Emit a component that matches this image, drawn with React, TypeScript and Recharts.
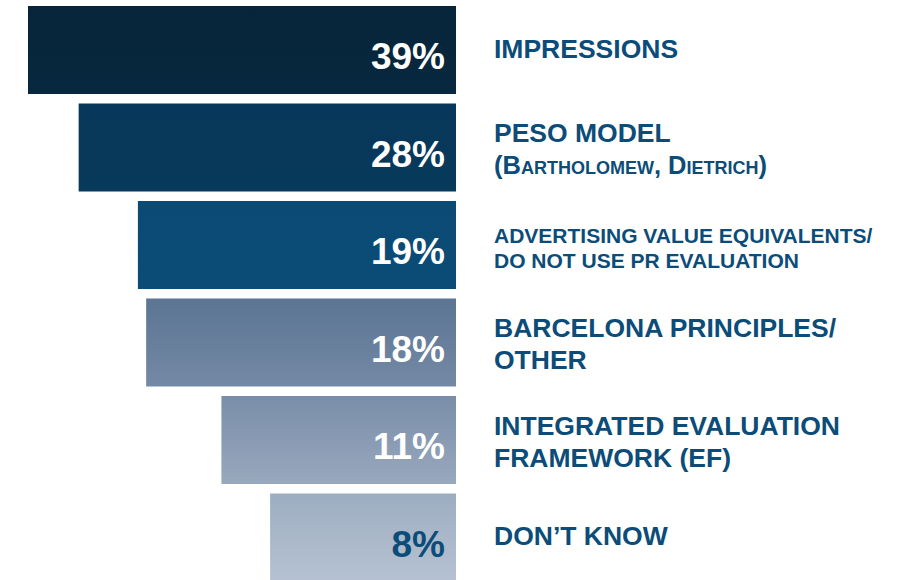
import * as React from "react";
import { BarChart, Bar, XAxis, YAxis, Cell, LabelList } from "recharts";

// survey answers, top to bottom
const methods = [
  "Impressions",
  "PESO model",
  "AVE / no evaluation",
  "Barcelona principles / other",
  "Integrated evaluation framework",
  "Don't know",
];
const shares = [39, 28, 19, 18, 11, 8];

// label text shown to the right of each bar, one entry per line
const labelLines: string[][] = [
  ["IMPRESSIONS"],
  ["PESO MODEL", "(Bartholomew, Dietrich)"],
  ["ADVERTISING VALUE EQUIVALENTS/", "DO NOT USE PR EVALUATION"],
  ["BARCELONA PRINCIPLES/", "OTHER"],
  ["INTEGRATED EVALUATION", "FRAMEWORK (EF)"],
  ["DON\u2019T KNOW"],
];

const data = methods.map((name, i) => ({ name, value: shares[i] }));

const TEXT_BLUE = "#0b4c78";
const FONT = "'Liberation Sans', Arial, Helvetica, sans-serif";

// top / bottom colour of each bar's vertical gradient
const barShades: Array<[string, string]> = [
  ["#06253a", "#07283e"],
  ["#07375a", "#083a5c"],
  ["#0a4a73", "#0b4c76"],
  ["#5b7593", "#7489a5"],
  ["#7a8ea9", "#98a8bd"],
  ["#9dadc1", "#b6c2d2"],
];

function MethodTick(props: any) {
  const { x, y, payload } = props;
  const idx = methods.indexOf(payload.value);
  const lines = labelLines[idx] || [payload.value];
  const small = idx === 2;
  const size = small ? 21 : 26.5;
  const gap = small ? 25 : 32;
  // first baseline so the block sits about the bar's middle
  const first = lines.length === 1 ? 8 : small ? -2 : -5;
  return (
    <g>
      {lines.map((line, j) => {
        const caps = idx === 1 && j === 1;
        return (
          <text
            key={j}
            x={x + 38}
            y={y + first + j * gap}
            fill={TEXT_BLUE}
            fontFamily={FONT}
            fontWeight={700}
            fontSize={caps ? 25.5 : size}
            style={caps ? { fontVariant: "small-caps" } : undefined}
          >
            {line}
          </text>
        );
      })}
    </g>
  );
}

function PercentLabel(props: any) {
  const { x, y, width, height, value, index } = props;
  const right = Math.max(x, x + width);
  return (
    <text
      x={right - 11}
      y={y + height / 2 + 19}
      textAnchor="end"
      fill={index === shares.length - 1 ? TEXT_BLUE : "#ffffff"}
      fontFamily={FONT}
      fontWeight={700}
      fontSize={37}
    >
      {`${value}%`}
    </text>
  );
}

export default function App() {
  return (
    <div style={{ position: "absolute", left: 0, top: 0, background: "#ffffff" }}>
      <BarChart
        width={911}
        height={586}
        data={data}
        layout="vertical"
        margin={{ top: 1, right: 0, bottom: 0, left: 28 }}
        barSize={88}
      >
        <defs>
          {barShades.map(([top, bottom], i) => (
            <linearGradient key={i} id={`shade${i}`} x1="0" y1="0" x2="0" y2="1">
              <stop offset="0%" stopColor={top} />
              <stop offset="100%" stopColor={bottom} />
            </linearGradient>
          ))}
        </defs>
        {/* log scale gives the tapering funnel look of the original */}
        <XAxis
          type="number"
          scale="log"
          domain={[2.37, 39]}
          allowDataOverflow
          reversed
          hide
        />
        <YAxis
          type="category"
          dataKey="name"
          orientation="right"
          width={455}
          axisLine={false}
          tickLine={false}
          tickSize={0}
          tickMargin={0}
          interval={0}
          tick={<MethodTick />}
        />
        <Bar dataKey="value" isAnimationActive={false}>
          {data.map((_, i) => (
            <Cell key={`cell-${i}`} fill={`url(#shade${i})`} />
          ))}
          <LabelList dataKey="value" content={<PercentLabel />} />
        </Bar>
      </BarChart>
    </div>
  );
}
